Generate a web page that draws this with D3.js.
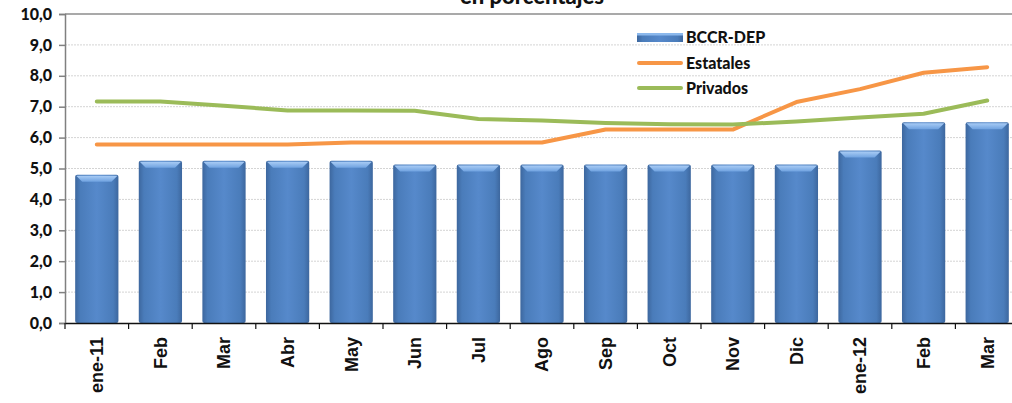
<!DOCTYPE html>
<html><head><meta charset="utf-8">
<script src="https://cdn.jsdelivr.net/npm/d3@7"></script>
<style>body{margin:0;background:#fff}svg{display:block}</style>
</head><body><svg id="c" width="1012" height="403"></svg>
<script>
const categories = ["ene-11","Feb","Mar","Abr","May","Jun","Jul","Ago","Sep","Oct","Nov","Dic","ene-12","Feb ","Mar "];
const bccrDep   = [4.8,5.25,5.25,5.25,5.25,5.13,5.13,5.13,5.13,5.13,5.13,5.13,5.58,6.5,6.5];
const estatales = [5.78,5.78,5.78,5.78,5.84,5.84,5.84,5.84,6.26,6.26,6.26,7.15,7.57,8.1,8.28];
const privados  = [7.17,7.17,7.03,6.88,6.88,6.87,6.6,6.55,6.47,6.43,6.42,6.52,6.65,6.77,7.2];
const yTicks = [0,1,2,3,4,5,6,7,8,9,10];
const title = "-en porcentajes-";
const legendNames = ["BCCR-DEP","Estatales","Privados"];

const svg = d3.select("#c");
const M = {left:65, right:1019, top:14, bottom:323};
const x = d3.scaleBand().domain(categories).range([M.left, M.right]).paddingInner(0.32).paddingOuter(0.16);
const y = d3.scaleLinear().domain([0,10]).range([M.bottom, M.top]);
const fmt = d => d3.format(".1f")(d).replace(".", ",");

const defs = svg.append("defs");
const g1 = defs.append("linearGradient").attr("id","barG").attr("x1","0").attr("x2","1").attr("y1","0").attr("y2","0");
[[0,"#3d679e"],[0.12,"#4a7cba"],[0.5,"#5689cb"],[0.88,"#4a7cba"],[1,"#3d679e"]].forEach(s=>g1.append("stop").attr("offset",s[0]).attr("stop-color",s[1]));
const g2 = defs.append("linearGradient").attr("id","topG").attr("x1","0").attr("x2","0").attr("y1","0").attr("y2","1");
[[0,"#a9ccf5"],[1,"#6fa2e0"]].forEach(s=>g2.append("stop").attr("offset",s[0]).attr("stop-color",s[1]));

// gridlines
svg.append("g").selectAll("line").data(yTicks.filter(d=>d>0 && d<10)).join("line")
  .attr("x1",M.left).attr("x2",1012).attr("y1",d=>y(d)).attr("y2",d=>y(d))
  .attr("stroke","#d4d4d4").attr("stroke-width",1).attr("stroke-dasharray","2,1");
// top border
svg.append("line").attr("x1",M.left).attr("x2",1012).attr("y1",y(10)).attr("y2",y(10)).attr("stroke","#8c8c8c").attr("stroke-width",1.5);

// bars
const bw = x.bandwidth();
const bars = svg.append("g").selectAll("g").data(categories).join("g");
bars.append("rect").attr("x",(d)=>x(d)).attr("y",(d,i)=>y(bccrDep[i])).attr("width",bw)
  .attr("height",(d,i)=>y(0)-y(bccrDep[i])).attr("fill","url(#barG)").attr("rx",2);
bars.append("path").attr("d",(d,i)=>{
  const x0=x(d), y0=y(bccrDep[i]);
  return `M${x0+1},${y0+1}L${x0+bw-1},${y0+1}L${x0+bw-7},${y0+7}L${x0+7},${y0+7}Z`;
}).attr("fill","url(#topG)");

// axes
const yAxis = svg.append("g").attr("transform",`translate(${M.left},0)`)
  .call(d3.axisLeft(y).tickValues(yTicks).tickFormat(fmt).tickSize(6).tickPadding(7));
yAxis.select(".domain").attr("stroke","#808080").attr("stroke-width",1.5);
yAxis.selectAll(".tick line").attr("stroke","#808080").attr("stroke-width",1.5);
yAxis.selectAll("text").attr("font-family","Lato, sans-serif").attr("font-weight","900").attr("font-size","16px").attr("fill","#111");

const xAxis = svg.append("g").attr("transform",`translate(0,${M.bottom})`)
  .call(d3.axisBottom(x).tickSize(0).tickFormat(d=>d.trim()));
xAxis.select(".domain").attr("stroke","#111").attr("stroke-width",1.5);
xAxis.selectAll(".tick text").attr("transform","rotate(-90)").attr("text-anchor","end")
  .attr("x",-14).attr("y",0).attr("dy","0.36em")
  .attr("font-family","'Liberation Sans', Arial, sans-serif").attr("font-weight","bold").attr("font-size","18px").attr("fill","#111");
// band boundary ticks
const step = x.step();
svg.append("g").selectAll("line").data(d3.range(categories.length+1)).join("line")
  .attr("x1",i=>M.left+i*step).attr("x2",i=>M.left+i*step).attr("y1",M.bottom).attr("y2",M.bottom+6)
  .attr("stroke","#111").attr("stroke-width",1.2);

// lines
const cx = (d)=>x(d)+bw/2;
const line = d3.line().x((d,i)=>cx(categories[i])).y(d=>y(d));
svg.append("path").datum(estatales).attr("d",line).attr("fill","none").attr("stroke","#f79646").attr("stroke-width",4).attr("stroke-linejoin","round").attr("stroke-linecap","round");
svg.append("path").datum(privados).attr("d",line).attr("fill","none").attr("stroke","#9bbb59").attr("stroke-width",4).attr("stroke-linejoin","round").attr("stroke-linecap","round");

// title
svg.append("text").attr("x",532).attr("y",4).attr("text-anchor","middle")
  .attr("font-family","Lato, sans-serif").attr("font-weight","900").attr("font-size","22px").attr("fill","#111").text(title);

// legend
const lg = svg.append("g");
const ly = [37,63,88];
lg.append("rect").attr("x",637).attr("y",ly[0]-4).attr("width",46).attr("height",9).attr("fill","url(#barG)");
lg.append("rect").attr("x",637).attr("y",ly[0]-4).attr("width",46).attr("height",2.5).attr("fill","#8bb8ec");
lg.append("line").attr("x1",639).attr("x2",681).attr("y1",ly[1]).attr("y2",ly[1]).attr("stroke","#f79646").attr("stroke-width",4).attr("stroke-linecap","round");
lg.append("line").attr("x1",639).attr("x2",681).attr("y1",ly[2]).attr("y2",ly[2]).attr("stroke","#9bbb59").attr("stroke-width",4).attr("stroke-linecap","round");
lg.selectAll("text").data(legendNames).join("text").attr("x",686).attr("y",(d,i)=>ly[i]).attr("dy","0.35em")
  .attr("font-family","Lato, sans-serif").attr("font-weight","900").attr("font-size","16px").attr("fill","#111").text(d=>d);
</script></body></html>
